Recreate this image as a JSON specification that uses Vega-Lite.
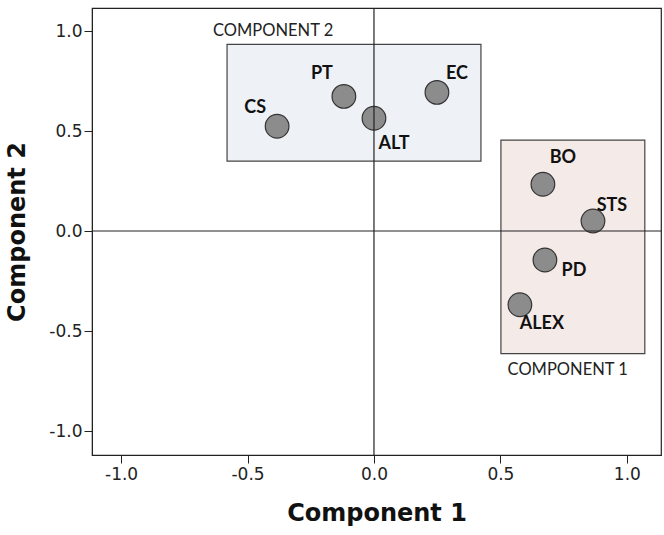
{
  "$schema": "https://vega.github.io/schema/vega-lite/v6.json",
  "width": 569,
  "height": 447,
  "autosize": {"type": "none"},
  "padding": {"left": 92, "top": 8, "right": 3, "bottom": 80},
  "background": "white",
  "config": {
    "view": {"stroke": "#222", "strokeWidth": 1.2},
    "axis": {
      "grid": false,
      "domainColor": "#222",
      "tickColor": "#222",
      "tickSize": 8,
      "labelFont": "DejaVu Sans",
      "labelFontSize": 17,
      "labelColor": "#222",
      "titleFont": "DejaVu Sans",
      "titleFontSize": 24,
      "titleFontWeight": "bold",
      "titleColor": "#111"
    }
  },
  "datasets": {
    "points": [
      {"name": "CS", "c1": -0.383, "c2": 0.524},
      {"name": "PT", "c1": -0.119, "c2": 0.673},
      {"name": "ALT", "c1": 0.0, "c2": 0.564},
      {"name": "EC", "c1": 0.249, "c2": 0.693},
      {"name": "BO", "c1": 0.668, "c2": 0.234},
      {"name": "STS", "c1": 0.866, "c2": 0.05},
      {"name": "PD", "c1": 0.676, "c2": -0.145},
      {"name": "ALEX", "c1": 0.577, "c2": -0.369}
    ],
    "boxes": [
      {"box": "COMPONENT 2", "x1": -0.581, "x2": 0.423, "y1": 0.933, "y2": 0.349},
      {"box": "COMPONENT 1", "x1": 0.502, "x2": 1.071, "y1": 0.454, "y2": -0.613}
    ],
    "zero": [{"v": 0}]
  },
  "layer": [
    {
      "data": {"name": "boxes"},
      "mark": {"type": "rect", "stroke": "#444", "strokeWidth": 1.2},
      "encoding": {
        "x": {"field": "x1", "type": "quantitative", "scale": {"domain": [-1.115, 1.135], "nice": false, "zero": false},
          "axis": {"values": [-1, -0.5, 0, 0.5, 1], "format": ".1f", "labelExpr": "replace(datum.label, '\u2212', '-')", "title": "Component 1", "titlePadding": 19, "labelPadding": 3}},
        "x2": {"field": "x2"},
        "y": {"field": "y1", "type": "quantitative", "scale": {"domain": [-1.12, 1.115], "nice": false, "zero": false},
          "axis": {"values": [-1, -0.5, 0, 0.5, 1], "format": ".1f", "labelExpr": "replace(datum.label, '\u2212', '-')", "title": "Component 2", "titlePadding": 19, "labelPadding": 2}},
        "y2": {"field": "y2"},
        "fill": {"field": "box", "type": "nominal", "scale": {"domain": ["COMPONENT 2", "COMPONENT 1"], "range": ["#eef1f6", "#f4eae8"]}, "legend": null}
      }
    },
    {
      "data": {"name": "boxes"},
      "transform": [{"filter": "datum.box == 'COMPONENT 2'"}],
      "mark": {"type": "text", "font": "Lato", "fontSize": 16.5, "align": "left", "baseline": "middle", "dx": -14, "dy": -13, "color": "#222"},
      "encoding": {
        "x": {"field": "x1", "type": "quantitative"},
        "y": {"field": "y1", "type": "quantitative"},
        "text": {"field": "box"}
      }
    },
    {
      "data": {"name": "boxes"},
      "transform": [{"filter": "datum.box == 'COMPONENT 1'"}],
      "mark": {"type": "text", "font": "Lato", "fontSize": 16.5, "align": "right", "baseline": "middle", "dx": -17, "dy": 16, "color": "#222"},
      "encoding": {
        "x": {"field": "x2", "type": "quantitative"},
        "y": {"field": "y2", "type": "quantitative"},
        "text": {"field": "box"}
      }
    },
    {
      "data": {"name": "points"},
      "mark": {"type": "point", "filled": true, "fill": "#8c8c8c", "stroke": "#333", "strokeWidth": 1.2, "opacity": 1, "fillOpacity": 1, "size": 560},
      "encoding": {
        "x": {"field": "c1", "type": "quantitative"},
        "y": {"field": "c2", "type": "quantitative"}
      }
    },
    {
      "data": {"name": "zero"},
      "mark": {"type": "rule", "color": "#222", "strokeWidth": 1.2},
      "encoding": {"x": {"field": "v", "type": "quantitative"}}
    },
    {
      "data": {"name": "zero"},
      "mark": {"type": "rule", "color": "#222", "strokeWidth": 1.2},
      "encoding": {"y": {"field": "v", "type": "quantitative"}}
    },
    {"data": {"name": "points"}, "transform": [{"filter": "datum.name == 'CS'"}],
      "mark": {"type": "text", "font": "Lato", "fontWeight": "bold", "fontSize": 18, "dx": -22, "dy": -18, "color": "#111"},
      "encoding": {"x": {"field": "c1", "type": "quantitative"}, "y": {"field": "c2", "type": "quantitative"}, "text": {"field": "name"}}},
    {"data": {"name": "points"}, "transform": [{"filter": "datum.name == 'PT'"}],
      "mark": {"type": "text", "font": "Lato", "fontWeight": "bold", "fontSize": 18, "dx": -22, "dy": -22, "color": "#111"},
      "encoding": {"x": {"field": "c1", "type": "quantitative"}, "y": {"field": "c2", "type": "quantitative"}, "text": {"field": "name"}}},
    {"data": {"name": "points"}, "transform": [{"filter": "datum.name == 'ALT'"}],
      "mark": {"type": "text", "font": "Lato", "fontWeight": "bold", "fontSize": 18, "dx": 20, "dy": 26, "color": "#111"},
      "encoding": {"x": {"field": "c1", "type": "quantitative"}, "y": {"field": "c2", "type": "quantitative"}, "text": {"field": "name"}}},
    {"data": {"name": "points"}, "transform": [{"filter": "datum.name == 'EC'"}],
      "mark": {"type": "text", "font": "Lato", "fontWeight": "bold", "fontSize": 18, "dx": 20, "dy": -18, "color": "#111"},
      "encoding": {"x": {"field": "c1", "type": "quantitative"}, "y": {"field": "c2", "type": "quantitative"}, "text": {"field": "name"}}},
    {"data": {"name": "points"}, "transform": [{"filter": "datum.name == 'BO'"}],
      "mark": {"type": "text", "font": "Lato", "fontWeight": "bold", "fontSize": 18, "dx": 20, "dy": -26, "color": "#111"},
      "encoding": {"x": {"field": "c1", "type": "quantitative"}, "y": {"field": "c2", "type": "quantitative"}, "text": {"field": "name"}}},
    {"data": {"name": "points"}, "transform": [{"filter": "datum.name == 'STS'"}],
      "mark": {"type": "text", "font": "Lato", "fontWeight": "bold", "fontSize": 18, "dx": 19, "dy": -15, "color": "#111"},
      "encoding": {"x": {"field": "c1", "type": "quantitative"}, "y": {"field": "c2", "type": "quantitative"}, "text": {"field": "name"}}},
    {"data": {"name": "points"}, "transform": [{"filter": "datum.name == 'PD'"}],
      "mark": {"type": "text", "font": "Lato", "fontWeight": "bold", "fontSize": 18, "dx": 29, "dy": 11, "color": "#111"},
      "encoding": {"x": {"field": "c1", "type": "quantitative"}, "y": {"field": "c2", "type": "quantitative"}, "text": {"field": "name"}}},
    {"data": {"name": "points"}, "transform": [{"filter": "datum.name == 'ALEX'"}],
      "mark": {"type": "text", "font": "Lato", "fontWeight": "bold", "fontSize": 18, "dx": 22, "dy": 19, "color": "#111"},
      "encoding": {"x": {"field": "c1", "type": "quantitative"}, "y": {"field": "c2", "type": "quantitative"}, "text": {"field": "name"}}}
  ]
}
